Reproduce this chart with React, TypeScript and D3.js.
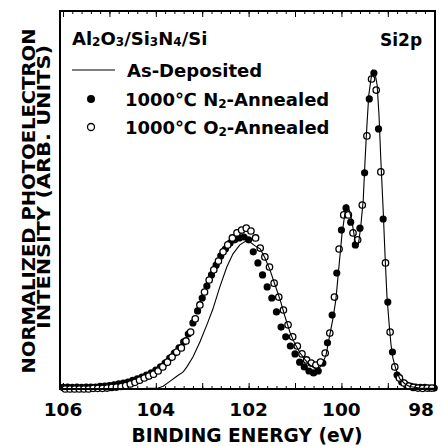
import { useEffect, useRef } from 'react';
import * as d3 from 'd3';

const W = 443;
const H = 446;
const FRAME = { left: 60, right: 435, top: 11, bottom: 389 };
const FONT = '"DejaVu Sans", Verdana, sans-serif';

const X_LABELS = [106, 104, 102, 100, 98];

// 1000C N2-annealed (filled circles)
const ENERGY_N2 = [
  106.0, 105.9, 105.8, 105.7, 105.6, 105.5, 105.4, 105.3, 105.2, 105.1,
  105.0, 104.9, 104.8, 104.7, 104.6, 104.5, 104.4, 104.3, 104.2, 104.1,
  104.0, 103.9, 103.8, 103.7, 103.6, 103.5, 103.4, 103.3, 103.2, 103.1,
  103.0, 102.9, 102.8, 102.7, 102.6, 102.5, 102.4, 102.3, 102.2, 102.1,
  102.0, 101.9, 101.8, 101.7, 101.6, 101.5, 101.4, 101.3, 101.2, 101.1,
  101.0, 100.9, 100.8, 100.7, 100.6, 100.5, 100.4, 100.3, 100.2, 100.1,
  100.0, 99.9, 99.8, 99.7, 99.6, 99.5, 99.4, 99.3, 99.2, 99.1,
  99.0, 98.9, 98.8, 98.7, 98.6, 98.5, 98.4, 98.3, 98.2, 98.1,
  98.0,
];
const INTENSITY_N2 = [
  0.005, 0.006, 0.005, 0.006, 0.005, 0.006, 0.006, 0.006, 0.008, 0.009,
  0.011, 0.013, 0.016, 0.019, 0.022, 0.027, 0.032, 0.038, 0.044, 0.051,
  0.060, 0.070, 0.082, 0.098, 0.114, 0.130, 0.149, 0.174, 0.209, 0.247,
  0.288, 0.326, 0.361, 0.392, 0.421, 0.443, 0.462, 0.472, 0.478, 0.481,
  0.472, 0.434, 0.399, 0.361, 0.323, 0.288, 0.244, 0.196, 0.165, 0.136,
  0.111, 0.085, 0.070, 0.057, 0.051, 0.057, 0.082, 0.146, 0.234, 0.367,
  0.503, 0.573, 0.528, 0.456, 0.509, 0.684, 0.918, 1.000, 0.823, 0.538,
  0.275, 0.117, 0.044, 0.022, 0.013, 0.008, 0.006, 0.005, 0.005, 0.003,
  0.003,
];

// 1000C O2-annealed (open circles)
const ENERGY_O2 = [
  105.95, 105.85, 105.75, 105.65, 105.55, 105.45, 105.35, 105.25, 105.15, 105.05,
  104.95, 104.85, 104.75, 104.65, 104.55, 104.45, 104.35, 104.25, 104.15, 104.05,
  103.95, 103.85, 103.75, 103.65, 103.55, 103.45, 103.35, 103.25, 103.15, 103.05,
  102.95, 102.85, 102.75, 102.65, 102.55, 102.45, 102.35, 102.25, 102.15, 102.05,
  101.95, 101.85, 101.75, 101.65, 101.55, 101.45, 101.35, 101.25, 101.15, 101.05,
  100.95, 100.85, 100.75, 100.65, 100.55, 100.45, 100.35, 100.25, 100.15, 100.05,
  99.95, 99.85, 99.75, 99.65, 99.55, 99.45, 99.35, 99.25, 99.15, 99.05,
  98.95, 98.85, 98.75, 98.65, 98.55, 98.45, 98.35, 98.25, 98.15, 98.05,
];
const INTENSITY_O2 = [
  0.000, 0.000, 0.000, 0.000, 0.000, 0.000, 0.002, 0.002, 0.002, 0.003,
  0.005, 0.006, 0.008, 0.011, 0.016, 0.021, 0.028, 0.035, 0.041, 0.047,
  0.057, 0.070, 0.085, 0.101, 0.117, 0.130, 0.152, 0.180, 0.222, 0.266,
  0.307, 0.345, 0.377, 0.405, 0.434, 0.456, 0.478, 0.494, 0.503, 0.509,
  0.500, 0.478, 0.446, 0.418, 0.386, 0.335, 0.291, 0.250, 0.203, 0.165,
  0.136, 0.111, 0.092, 0.082, 0.076, 0.085, 0.114, 0.177, 0.291, 0.443,
  0.551, 0.551, 0.494, 0.472, 0.582, 0.801, 0.981, 0.946, 0.687, 0.399,
  0.180, 0.070, 0.035, 0.019, 0.009, 0.005, 0.003, 0.002, 0.003, 0.003,
];

// As-deposited (solid line)
const ENERGY_ASDEP = [
  106.0, 105.2, 104.56, 104.13, 103.95, 103.84, 103.69, 103.54, 103.41, 103.33,
  103.2, 103.05, 102.9, 102.77, 102.62, 102.47, 102.34, 102.19, 102.06, 101.97,
  101.86, 101.75, 101.65, 101.54, 101.43, 101.32, 101.22, 101.11, 101.0, 100.89,
  100.78, 100.68, 100.57, 100.5, 100.42, 100.33, 100.25, 100.18, 100.12, 100.05,
  99.99, 99.92, 99.88, 99.83, 99.77, 99.71, 99.66, 99.62, 99.58, 99.53,
  99.49, 99.45, 99.41, 99.36, 99.32, 99.28, 99.23, 99.19, 99.15, 99.1,
  99.06, 99.02, 98.97, 98.93, 98.89, 98.82, 98.74, 98.63, 98.53, 98.31,
  98.0,
];
const INTENSITY_ASDEP = [
  0.000, 0.000, 0.000, 0.002, 0.003, 0.009, 0.025, 0.041, 0.054, 0.070,
  0.101, 0.149, 0.203, 0.253, 0.323, 0.386, 0.427, 0.456, 0.468, 0.465,
  0.453, 0.443, 0.415, 0.377, 0.329, 0.282, 0.231, 0.180, 0.142, 0.114,
  0.092, 0.076, 0.066, 0.063, 0.076, 0.108, 0.171, 0.225, 0.282, 0.392,
  0.487, 0.560, 0.582, 0.566, 0.528, 0.472, 0.446, 0.472, 0.519, 0.598,
  0.725, 0.835, 0.930, 0.984, 1.009, 1.003, 0.962, 0.867, 0.725, 0.566,
  0.424, 0.297, 0.203, 0.139, 0.098, 0.060, 0.032, 0.016, 0.008, 0.003,
  0.002,
];

const SERIES_LABELS = ['As-Deposited', 'N', 'O'];

export default function App() {
  const svgRef = useRef<SVGSVGElement>(null);

  useEffect(() => {
    const svg = d3.select(svgRef.current);
    svg.selectAll('*').remove();

    const x = d3.scaleLinear().domain([106.065, 97.983]).range([FRAME.left, FRAME.right]);
    const y = d3.scaleLinear().domain([0, 1]).range([FRAME.bottom, 73]);

    svg.append('rect').attr('width', W).attr('height', H).attr('fill', '#fff');

    // ticks, inside the frame, top and bottom
    const minor = x.ticks(40);
    const major = x.ticks(8);
    const tickGroup = (axis: any, ty: number) => {
      const g = svg.append('g').attr('transform', `translate(0,${ty})`).call(axis);
      g.select('.domain').remove();
      g.selectAll('line').attr('stroke', '#000').attr('stroke-width', 1);
      g.selectAll('text').remove();
      return g;
    };
    tickGroup(d3.axisBottom(x).tickValues(minor).tickSize(-3).tickFormat(() => ''), FRAME.bottom);
    tickGroup(d3.axisBottom(x).tickValues(major).tickSize(-6).tickFormat(() => ''), FRAME.bottom);
    tickGroup(d3.axisTop(x).tickValues(minor).tickSize(-3).tickFormat(() => ''), FRAME.top);
    tickGroup(d3.axisTop(x).tickValues(major).tickSize(-6).tickFormat(() => ''), FRAME.top);

    // tick labels (the last one is pulled in so it stays on the page)
    svg.append('g').selectAll('text').data(X_LABELS).join('text')
      .attr('x', d => Math.min(x(d), W - 22)).attr('y', 416)
      .attr('text-anchor', 'middle')
      .attr('font-family', FONT).attr('font-weight', 'bold').attr('font-size', 18.5)
      .text(d => d);

    // data
    const n2 = ENERGY_N2.map((e, i) => [e, INTENSITY_N2[i]]);
    const o2 = ENERGY_O2.map((e, i) => [e, INTENSITY_O2[i]]);
    const asdep = ENERGY_ASDEP.map((e, i) => [e, INTENSITY_ASDEP[i]]);

    svg.append('g').selectAll('circle').data(n2).join('circle')
      .attr('cx', d => x(d[0])).attr('cy', d => y(d[1])).attr('r', 3.6)
      .attr('fill', '#000');

    svg.append('g').selectAll('circle').data(o2).join('circle')
      .attr('cx', d => x(d[0])).attr('cy', d => y(d[1])).attr('r', 3.2)
      .attr('fill', '#fff').attr('stroke', '#000').attr('stroke-width', 1.3);

    const line = d3.line<number[]>().x(d => x(d[0])).y(d => y(d[1]));
    svg.append('path').datum(asdep)
      .attr('d', line)
      .attr('fill', 'none').attr('stroke', '#000').attr('stroke-width', 1.1);

    // frame
    svg.append('rect')
      .attr('x', FRAME.left).attr('y', FRAME.top)
      .attr('width', FRAME.right - FRAME.left).attr('height', FRAME.bottom - FRAME.top)
      .attr('fill', 'none').attr('stroke', '#000').attr('stroke-width', 2);

    const bold = (sel: any, size: number) =>
      sel.attr('font-family', FONT).attr('font-weight', 'bold').attr('font-size', size).attr('fill', '#000');

    // sample label with subscripts
    const title = bold(svg.append('text').attr('x', 72).attr('y', 45), 18);
    [['Al', ''], ['2', 's'], ['O', ''], ['3', 's'], ['/Si', ''], ['3', 's'], ['N', ''], ['4', 's'], ['/Si', '']]
      .forEach(([t, k]) => {
        const ts = title.append('tspan').text(t);
        if (k) ts.attr('font-size', 12).attr('dy', 1);
        else ts.attr('dy', title.node().childNodes.length > 1 ? -1 : 0);
      });

    bold(svg.append('text').attr('x', 380).attr('y', 46), 17).text('Si2p');

    // legend
    svg.append('line').attr('x1', 72).attr('x2', 115).attr('y1', 70).attr('y2', 70)
      .attr('stroke', '#000').attr('stroke-width', 1.1);
    bold(svg.append('text').attr('x', 127).attr('y', 77), 18).text(SERIES_LABELS[0]);

    svg.append('circle').attr('cx', 91).attr('cy', 99).attr('r', 4).attr('fill', '#000');
    svg.append('circle').attr('cx', 91).attr('cy', 127).attr('r', 3.5)
      .attr('fill', '#fff').attr('stroke', '#000').attr('stroke-width', 1.3);

    [[SERIES_LABELS[1], 106], [SERIES_LABELS[2], 134]].forEach(([el, ty]) => {
      const t = bold(svg.append('text').attr('x', 125).attr('y', ty), 18);
      t.append('tspan').text(`1000\u2103 ${el}`);
      t.append('tspan').text('2').attr('font-size', 12).attr('dy', 2);
      t.append('tspan').text('-Annealed').attr('dy', -2);
    });

    // axis titles
    bold(svg.append('text').attr('x', 247).attr('y', 442), 19)
      .attr('text-anchor', 'middle')
      .attr('textLength', 231).attr('lengthAdjust', 'spacingAndGlyphs')
      .text('BINDING ENERGY (eV)');

    bold(svg.append('text').attr('transform', 'translate(35,201) rotate(-90)'), 18)
      .attr('text-anchor', 'middle')
      .attr('textLength', 345).attr('lengthAdjust', 'spacingAndGlyphs')
      .text('NORMALIZED PHOTOELECTRON');

    bold(svg.append('text').attr('transform', 'translate(50,187) rotate(-90)'), 18)
      .attr('text-anchor', 'middle')
      .attr('textLength', 284).attr('lengthAdjust', 'spacingAndGlyphs')
      .text('INTENSITY (ARB. UNITS)');
  }, []);

  return (
    <svg
      ref={svgRef}
      width={W}
      height={H}
      style={{ position: 'absolute', left: 0, top: 0, display: 'block' }}
    />
  );
}
